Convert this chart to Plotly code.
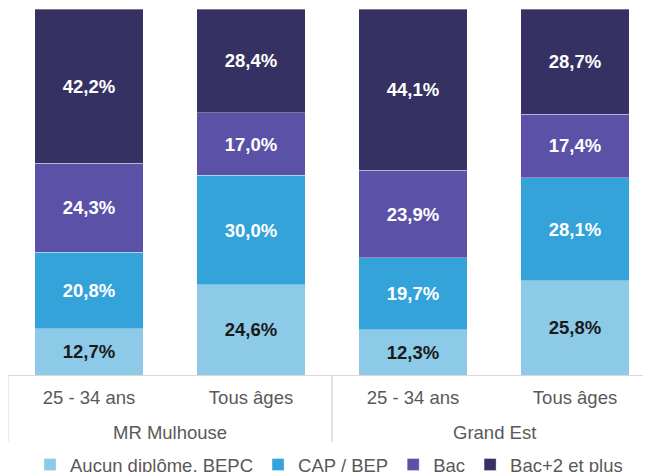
import plotly.graph_objects as go

groups = ["MR Mulhouse", "MR Mulhouse", "Grand Est", "Grand Est"]
ages = ["25 - 34 ans", "Tous âges", "25 - 34 ans", "Tous âges"]

series_names = ["Aucun diplôme, BEPC", "CAP / BEP", "Bac", "Bac+2 et plus"]
aucun = [12.7, 24.6, 12.3, 25.8]
cap = [20.8, 30.0, 19.7, 28.1]
bac = [24.3, 17.0, 23.9, 17.4]
bac2 = [42.2, 28.4, 44.1, 28.7]

colors = ["#8ccae8", "#34a3da", "#5b52a8", "#363163"]
text_colors = ["#1a1a1a", "#ffffff", "#ffffff", "#ffffff"]

FONT = "Liberation Sans, Arial, sans-serif"
GRAY = "#595959"
LINE = "#d9d9d9"

# unique category keys (group + age)
keys = [f"{g}|{a}" for g, a in zip(groups, ages)]

fig = go.Figure()
for name, vals, col, tcol in zip(series_names, [aucun, cap, bac, bac2], colors, text_colors):
    fig.add_trace(go.Bar(
        x=keys,
        y=vals,
        name=name,
        marker=dict(color=col, line=dict(color="rgba(255,255,255,0.45)", width=0.75)),
        text=[f"{v:.1f}%".replace(".", ",") for v in vals],
        textposition="inside",
        insidetextanchor="middle",
        textangle=0,
        constraintext="none",
        textfont=dict(family=FONT, size=18.5, color=tcol, weight="bold"),
        hoverinfo="skip",
    ))

# plot-area geometry (screen pixels; the page body adds an 8 px offset)
PLOT_TOP, PLOT_BOTTOM = 9, 375
PLOT_H = PLOT_BOTTOM - PLOT_TOP

def paper_y(screen_y):
    return (PLOT_BOTTOM - screen_y) / PLOT_H

# group labels and dividers of the two-level axis
unique_groups = []
for g in groups:
    if g not in unique_groups:
        unique_groups.append(g)

annotations = []
shapes = []
for g in unique_groups:
    idx = [i for i, gg in enumerate(groups) if gg == g]
    center = (idx[0] + idx[-1]) / 2
    annotations.append(dict(
        x=center, xref="x", y=paper_y(432), yref="paper",
        text=g, showarrow=False, xanchor="center", yanchor="middle",
        font=dict(family=FONT, size=18.5, color=GRAY),
    ))
    for b in (idx[0] - 0.5, idx[-1] + 0.5):
        shapes.append(dict(
            type="line", xref="x", yref="paper",
            x0=b, x1=b, y0=0, y1=paper_y(442),
            line=dict(color=LINE, width=1),
        ))

fig.update_layout(
    width=651,
    height=472,
    barmode="stack",
    bargap=0.333,
    margin=dict(l=0, r=8, t=1, b=105, autoexpand=False),
    paper_bgcolor="white",
    plot_bgcolor="white",
    font=dict(family=FONT, size=18.5, color=GRAY),
    showlegend=True,
    legend=dict(
        orientation="h",
        x=(30 - 8) / 643,
        xanchor="left",
        y=paper_y(465),
        yanchor="middle",
        font=dict(family=FONT, size=18.5, color=GRAY),
        traceorder="normal",
        bgcolor="rgba(0,0,0,0)",
    ),
    xaxis=dict(
        type="category",
        categoryorder="array",
        categoryarray=keys,
        tickvals=keys,
        ticktext=ages,
        range=[-0.5, 3.469],
        showline=True,
        linecolor=LINE,
        linewidth=1,
        ticks="",
        ticklabelstandoff=6,
        showgrid=False,
        tickfont=dict(family=FONT, size=18.5, color=GRAY),
        automargin=False,
    ),
    yaxis=dict(range=[0, 100], visible=False, showgrid=False, zeroline=False),
    annotations=annotations,
    shapes=shapes,
)

fig.write_html("out.html")
